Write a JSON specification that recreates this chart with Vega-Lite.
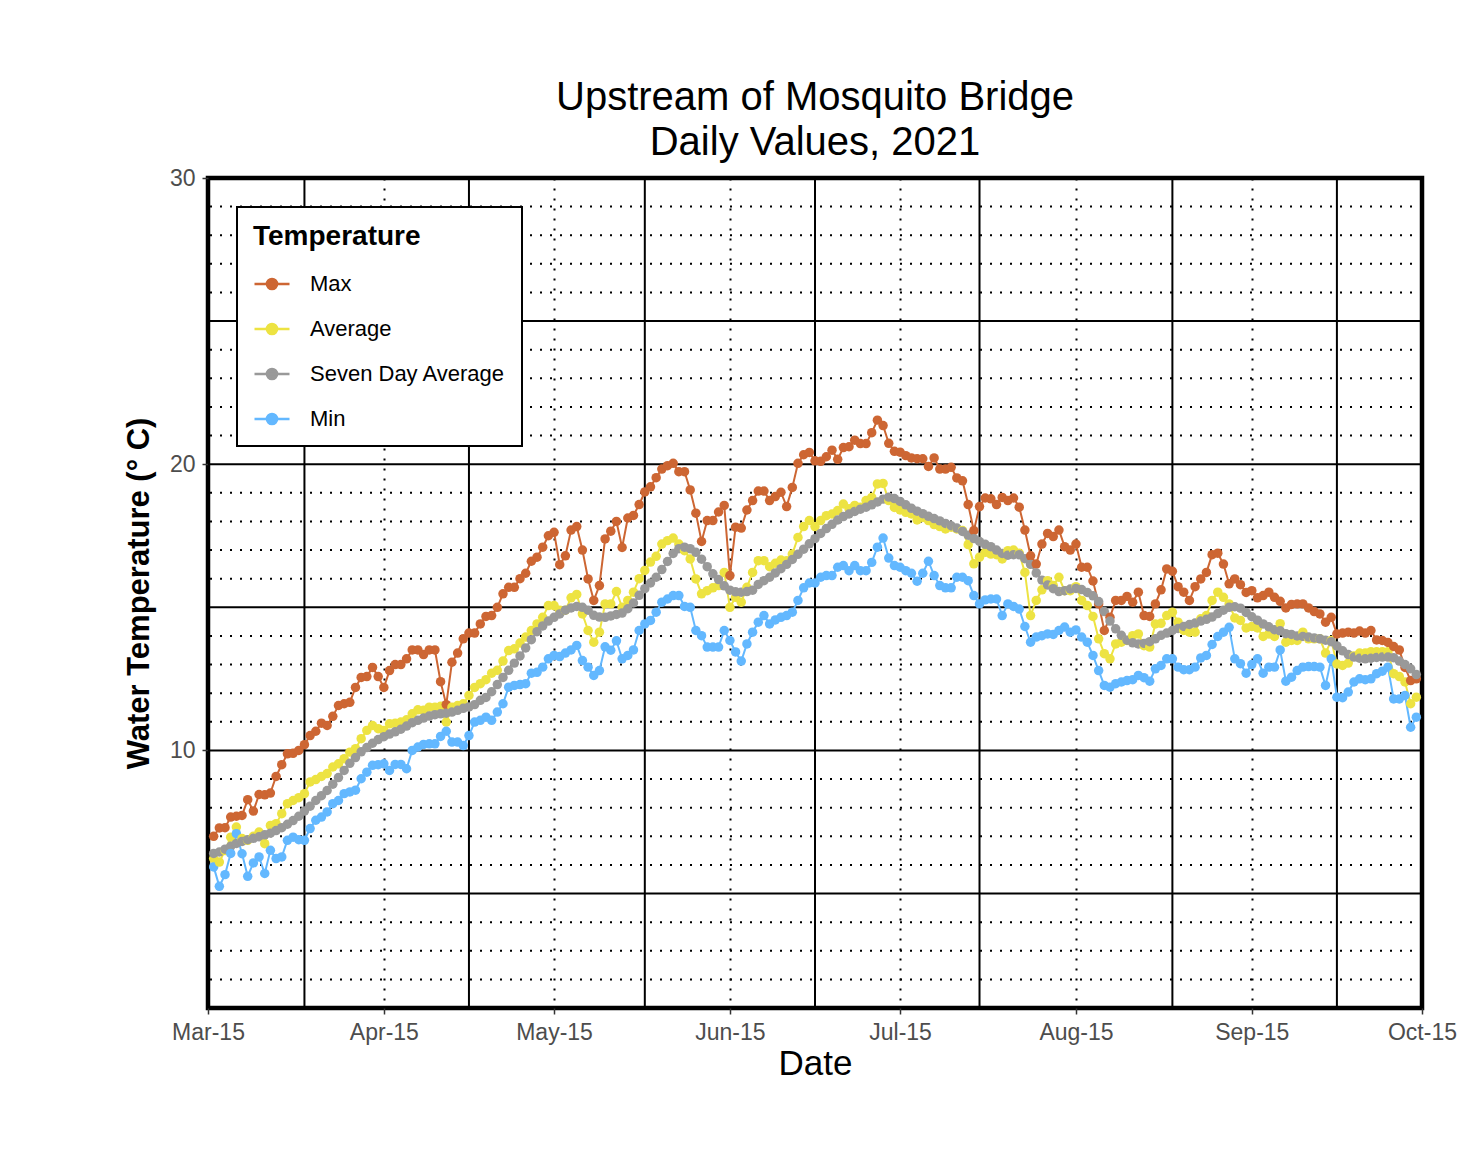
{
"$schema": "https://vega.github.io/schema/vega-lite/v6.json",
"width": 1214,
"height": 830,
"padding": {"left": 123, "top": 78, "right": 20, "bottom": 10},
"background": "white",
"title": {"text": ["Upstream of Mosquito Bridge", "Daily Values, 2021"], "fontSize": 40, "fontWeight": "normal", "font": "Liberation Sans", "color": "black", "anchor": "middle", "frame": "group", "lineHeight": 45, "offset": 4},
"config": {
  "font": "Liberation Sans",
  "view": {"stroke": "black", "strokeWidth": 4.5},
  "legend": {"strokeWidth": 2}
},
"layer": [
{
  "data": {"values": [{"temp":2},{"temp":3},{"temp":4},{"temp":6},{"temp":7},{"temp":8},{"temp":9},{"temp":11},{"temp":12},{"temp":13},{"temp":14},{"temp":16},{"temp":17},{"temp":18},{"temp":19},{"temp":21},{"temp":22},{"temp":23},{"temp":24},{"temp":26},{"temp":27},{"temp":28},{"temp":29}]},
  "mark": {"type": "rule", "color": "black", "strokeWidth": 2, "strokeDash": [2, 8]},
  "encoding": {"y": {"field": "temp", "type": "quantitative", "scale": {"domain": [1, 30], "nice": false, "zero": false}}}
},
{
  "data": {"values": [{"temp":5},{"temp":10},{"temp":15},{"temp":20},{"temp":25}]},
  "mark": {"type": "rule", "color": "black", "strokeWidth": 2},
  "encoding": {"y": {"field": "temp", "type": "quantitative", "scale": {"domain": [1, 30], "nice": false, "zero": false}}}
},
{
  "data": {"values": [{"date":"2021-04-01"},{"date":"2021-04-30"},{"date":"2021-05-31"},{"date":"2021-06-30"},{"date":"2021-07-29"},{"date":"2021-09-01"},{"date":"2021-09-30"}]},
  "mark": {"type": "rule", "color": "black", "strokeWidth": 2},
  "encoding": {"x": {"field": "date", "type": "temporal", "scale": {"type": "utc", "domain": [{"year":2021,"month":3,"date":15,"utc":true},{"year":2021,"month":10,"date":15,"utc":true}]}}}
},
{
  "data": {"values": [
{"date":"2021-03-16","max":7.0,"avg":6.22,"sda":6.4,"min":5.93},
{"date":"2021-03-17","max":7.29,"avg":6.1,"sda":6.45,"min":5.25},
{"date":"2021-03-18","max":7.3,"avg":6.5,"sda":6.55,"min":5.66},
{"date":"2021-03-19","max":7.67,"avg":6.97,"sda":6.65,"min":6.4},
{"date":"2021-03-20","max":7.7,"avg":7.32,"sda":6.75,"min":7.09},
{"date":"2021-03-21","max":7.73,"avg":6.92,"sda":6.82,"min":6.39},
{"date":"2021-03-22","max":8.28,"avg":6.86,"sda":6.88,"min":5.6},
{"date":"2021-03-23","max":7.88,"avg":7.0,"sda":6.93,"min":6.07},
{"date":"2021-03-24","max":8.46,"avg":7.15,"sda":6.98,"min":6.28},
{"date":"2021-03-25","max":8.45,"avg":6.74,"sda":7.05,"min":5.7},
{"date":"2021-03-26","max":8.51,"avg":7.38,"sda":7.11,"min":6.51},
{"date":"2021-03-27","max":9.09,"avg":7.44,"sda":7.2,"min":6.22},
{"date":"2021-03-28","max":9.5,"avg":7.79,"sda":7.3,"min":6.28},
{"date":"2021-03-29","max":9.88,"avg":8.14,"sda":7.42,"min":6.86},
{"date":"2021-03-30","max":9.9,"avg":8.25,"sda":7.55,"min":6.97},
{"date":"2021-03-31","max":10.0,"avg":8.35,"sda":7.7,"min":6.88},
{"date":"2021-04-01","max":10.2,"avg":8.49,"sda":7.88,"min":6.86},
{"date":"2021-04-02","max":10.52,"avg":8.9,"sda":8.05,"min":7.27},
{"date":"2021-04-03","max":10.67,"avg":8.98,"sda":8.25,"min":7.56},
{"date":"2021-04-04","max":10.95,"avg":9.09,"sda":8.42,"min":7.67},
{"date":"2021-04-05","max":10.87,"avg":9.19,"sda":8.6,"min":7.85},
{"date":"2021-04-06","max":11.19,"avg":9.42,"sda":8.82,"min":8.14},
{"date":"2021-04-07","max":11.57,"avg":9.53,"sda":9.05,"min":8.25},
{"date":"2021-04-08","max":11.63,"avg":9.71,"sda":9.3,"min":8.49},
{"date":"2021-04-09","max":11.68,"avg":9.94,"sda":9.55,"min":8.55},
{"date":"2021-04-10","max":12.2,"avg":10.06,"sda":9.75,"min":8.61},
{"date":"2021-04-11","max":12.55,"avg":10.41,"sda":9.95,"min":9.01},
{"date":"2021-04-12","max":12.58,"avg":10.7,"sda":10.1,"min":9.24},
{"date":"2021-04-13","max":12.9,"avg":10.87,"sda":10.25,"min":9.48},
{"date":"2021-04-14","max":12.58,"avg":10.76,"sda":10.38,"min":9.5},
{"date":"2021-04-15","max":12.2,"avg":10.7,"sda":10.48,"min":9.53},
{"date":"2021-04-16","max":12.79,"avg":10.93,"sda":10.57,"min":9.3},
{"date":"2021-04-17","max":13.0,"avg":10.95,"sda":10.65,"min":9.51},
{"date":"2021-04-18","max":13.0,"avg":10.99,"sda":10.74,"min":9.51},
{"date":"2021-04-19","max":13.2,"avg":11.07,"sda":10.85,"min":9.36},
{"date":"2021-04-20","max":13.51,"avg":11.28,"sda":10.97,"min":10.0},
{"date":"2021-04-21","max":13.51,"avg":11.42,"sda":11.05,"min":10.12},
{"date":"2021-04-22","max":13.35,"avg":11.4,"sda":11.13,"min":10.21},
{"date":"2021-04-23","max":13.51,"avg":11.51,"sda":11.2,"min":10.23},
{"date":"2021-04-24","max":13.51,"avg":11.51,"sda":11.25,"min":10.23},
{"date":"2021-04-25","max":12.4,"avg":11.54,"sda":11.28,"min":10.49},
{"date":"2021-04-26","max":11.6,"avg":10.99,"sda":11.3,"min":10.67},
{"date":"2021-04-27","max":13.08,"avg":11.51,"sda":11.34,"min":10.29},
{"date":"2021-04-28","max":13.4,"avg":11.57,"sda":11.4,"min":10.29},
{"date":"2021-04-29","max":13.9,"avg":11.63,"sda":11.47,"min":10.17},
{"date":"2021-04-30","max":14.1,"avg":11.92,"sda":11.52,"min":10.52},
{"date":"2021-05-01","max":14.1,"avg":12.2,"sda":11.6,"min":10.99},
{"date":"2021-05-02","max":14.42,"avg":12.33,"sda":11.75,"min":11.05},
{"date":"2021-05-03","max":14.68,"avg":12.47,"sda":11.85,"min":11.16},
{"date":"2021-05-04","max":14.71,"avg":12.7,"sda":12.05,"min":11.05},
{"date":"2021-05-05","max":15.0,"avg":12.8,"sda":12.3,"min":11.34},
{"date":"2021-05-06","max":15.47,"avg":13.12,"sda":12.55,"min":11.63},
{"date":"2021-05-07","max":15.7,"avg":13.49,"sda":12.8,"min":12.21},
{"date":"2021-05-08","max":15.7,"avg":13.55,"sda":13.05,"min":12.27},
{"date":"2021-05-09","max":16.0,"avg":13.75,"sda":13.3,"min":12.3},
{"date":"2021-05-10","max":16.19,"avg":13.96,"sda":13.58,"min":12.33},
{"date":"2021-05-11","max":16.61,"avg":14.19,"sda":13.87,"min":12.7},
{"date":"2021-05-12","max":16.75,"avg":14.42,"sda":14.15,"min":12.73},
{"date":"2021-05-13","max":17.1,"avg":14.65,"sda":14.35,"min":12.91},
{"date":"2021-05-14","max":17.5,"avg":15.06,"sda":14.52,"min":13.2},
{"date":"2021-05-15","max":17.62,"avg":15.06,"sda":14.65,"min":13.32},
{"date":"2021-05-16","max":16.49,"avg":14.9,"sda":14.77,"min":13.28},
{"date":"2021-05-17","max":16.8,"avg":14.9,"sda":14.9,"min":13.4},
{"date":"2021-05-18","max":17.7,"avg":15.33,"sda":14.98,"min":13.51},
{"date":"2021-05-19","max":17.82,"avg":15.45,"sda":15.03,"min":13.67},
{"date":"2021-05-20","max":17.0,"avg":14.77,"sda":15.0,"min":13.14},
{"date":"2021-05-21","max":15.99,"avg":14.19,"sda":14.9,"min":12.91},
{"date":"2021-05-22","max":15.24,"avg":13.78,"sda":14.72,"min":12.62},
{"date":"2021-05-23","max":15.76,"avg":14.13,"sda":14.66,"min":12.79},
{"date":"2021-05-24","max":17.39,"avg":15.12,"sda":14.65,"min":13.62},
{"date":"2021-05-25","max":17.66,"avg":15.12,"sda":14.7,"min":13.5},
{"date":"2021-05-26","max":18.0,"avg":15.55,"sda":14.75,"min":13.83},
{"date":"2021-05-27","max":17.09,"avg":15.0,"sda":14.8,"min":13.2},
{"date":"2021-05-28","max":18.12,"avg":15.24,"sda":14.95,"min":13.32},
{"date":"2021-05-29","max":18.21,"avg":15.53,"sda":15.15,"min":13.51},
{"date":"2021-05-30","max":18.59,"avg":16.0,"sda":15.42,"min":14.19},
{"date":"2021-05-31","max":19.03,"avg":16.29,"sda":15.65,"min":14.42},
{"date":"2021-06-01","max":19.21,"avg":16.58,"sda":15.85,"min":14.54},
{"date":"2021-06-02","max":19.53,"avg":16.78,"sda":16.05,"min":14.83},
{"date":"2021-06-03","max":19.83,"avg":17.21,"sda":16.32,"min":15.18},
{"date":"2021-06-04","max":19.95,"avg":17.33,"sda":16.6,"min":15.29},
{"date":"2021-06-05","max":20.03,"avg":17.42,"sda":16.88,"min":15.41},
{"date":"2021-06-06","max":19.74,"avg":17.21,"sda":17.05,"min":15.41},
{"date":"2021-06-07","max":19.74,"avg":16.98,"sda":17.1,"min":15.03},
{"date":"2021-06-08","max":19.1,"avg":16.69,"sda":17.05,"min":15.0},
{"date":"2021-06-09","max":18.29,"avg":15.99,"sda":16.92,"min":14.19},
{"date":"2021-06-10","max":17.3,"avg":15.47,"sda":16.68,"min":14.01},
{"date":"2021-06-11","max":18.03,"avg":15.58,"sda":16.42,"min":13.61},
{"date":"2021-06-12","max":18.03,"avg":15.68,"sda":16.17,"min":13.61},
{"date":"2021-06-13","max":18.33,"avg":15.76,"sda":15.97,"min":13.61},
{"date":"2021-06-14","max":18.56,"avg":16.22,"sda":15.75,"min":14.19},
{"date":"2021-06-15","max":16.11,"avg":15.0,"sda":15.6,"min":13.84},
{"date":"2021-06-16","max":17.8,"avg":15.35,"sda":15.54,"min":13.44},
{"date":"2021-06-17","max":17.77,"avg":15.18,"sda":15.53,"min":13.12},
{"date":"2021-06-18","max":18.4,"avg":15.7,"sda":15.55,"min":13.72},
{"date":"2021-06-19","max":18.73,"avg":16.22,"sda":15.6,"min":14.13},
{"date":"2021-06-20","max":19.06,"avg":16.63,"sda":15.8,"min":14.48},
{"date":"2021-06-21","max":19.06,"avg":16.63,"sda":15.93,"min":14.71},
{"date":"2021-06-22","max":18.73,"avg":16.42,"sda":16.05,"min":14.42},
{"date":"2021-06-23","max":18.87,"avg":16.54,"sda":16.2,"min":14.56},
{"date":"2021-06-24","max":19.02,"avg":16.65,"sda":16.35,"min":14.65},
{"date":"2021-06-25","max":18.52,"avg":16.63,"sda":16.5,"min":14.71},
{"date":"2021-06-26","max":19.19,"avg":16.86,"sda":16.67,"min":14.83},
{"date":"2021-06-27","max":20.03,"avg":17.44,"sda":16.85,"min":15.24},
{"date":"2021-06-28","max":20.33,"avg":17.82,"sda":17.03,"min":15.68},
{"date":"2021-06-29","max":20.41,"avg":18.03,"sda":17.22,"min":15.85},
{"date":"2021-06-30","max":20.12,"avg":17.82,"sda":17.4,"min":15.85},
{"date":"2021-07-01","max":20.1,"avg":18.03,"sda":17.58,"min":16.05},
{"date":"2021-07-02","max":20.26,"avg":18.2,"sda":17.75,"min":16.11},
{"date":"2021-07-03","max":20.49,"avg":18.26,"sda":17.9,"min":16.11},
{"date":"2021-07-04","max":20.17,"avg":18.38,"sda":18.05,"min":16.4},
{"date":"2021-07-05","max":20.58,"avg":18.61,"sda":18.17,"min":16.46},
{"date":"2021-07-06","max":20.61,"avg":18.44,"sda":18.26,"min":16.28},
{"date":"2021-07-07","max":20.84,"avg":18.56,"sda":18.35,"min":16.46},
{"date":"2021-07-08","max":20.72,"avg":18.5,"sda":18.43,"min":16.28},
{"date":"2021-07-09","max":20.72,"avg":18.73,"sda":18.5,"min":16.28},
{"date":"2021-07-10","max":21.1,"avg":18.84,"sda":18.58,"min":16.57},
{"date":"2021-07-11","max":21.54,"avg":19.31,"sda":18.68,"min":17.1},
{"date":"2021-07-12","max":21.35,"avg":19.33,"sda":18.78,"min":17.42},
{"date":"2021-07-13","max":20.73,"avg":18.73,"sda":18.85,"min":16.72},
{"date":"2021-07-14","max":20.45,"avg":18.49,"sda":18.8,"min":16.46},
{"date":"2021-07-15","max":20.42,"avg":18.4,"sda":18.7,"min":16.4},
{"date":"2021-07-16","max":20.3,"avg":18.32,"sda":18.58,"min":16.28},
{"date":"2021-07-17","max":20.22,"avg":18.26,"sda":18.46,"min":16.19},
{"date":"2021-07-18","max":20.19,"avg":18.05,"sda":18.36,"min":15.91},
{"date":"2021-07-19","max":20.19,"avg":18.14,"sda":18.27,"min":16.19},
{"date":"2021-07-20","max":19.92,"avg":18.03,"sda":18.18,"min":16.61},
{"date":"2021-07-21","max":20.22,"avg":17.89,"sda":18.1,"min":16.11},
{"date":"2021-07-22","max":19.83,"avg":17.82,"sda":18.02,"min":15.76},
{"date":"2021-07-23","max":19.83,"avg":17.74,"sda":17.93,"min":15.68},
{"date":"2021-07-24","max":19.89,"avg":17.8,"sda":17.85,"min":15.68},
{"date":"2021-07-25","max":19.52,"avg":17.74,"sda":17.77,"min":16.05},
{"date":"2021-07-26","max":19.42,"avg":17.68,"sda":17.65,"min":16.05},
{"date":"2021-07-27","max":18.59,"avg":17.19,"sda":17.52,"min":15.93},
{"date":"2021-07-28","max":17.68,"avg":16.52,"sda":17.4,"min":15.41},
{"date":"2021-07-29","max":18.52,"avg":16.75,"sda":17.3,"min":15.12},
{"date":"2021-07-30","max":18.82,"avg":16.92,"sda":17.2,"min":15.26},
{"date":"2021-07-31","max":18.79,"avg":16.86,"sda":17.12,"min":15.29},
{"date":"2021-08-01","max":18.59,"avg":16.84,"sda":17.0,"min":15.29},
{"date":"2021-08-02","max":18.84,"avg":16.69,"sda":16.88,"min":14.71},
{"date":"2021-08-03","max":18.73,"avg":16.98,"sda":16.82,"min":15.12},
{"date":"2021-08-04","max":18.82,"avg":17.0,"sda":16.84,"min":15.03},
{"date":"2021-08-05","max":18.5,"avg":16.89,"sda":16.84,"min":14.94},
{"date":"2021-08-06","max":17.7,"avg":16.22,"sda":16.7,"min":14.33},
{"date":"2021-08-07","max":16.8,"avg":14.71,"sda":16.5,"min":13.78},
{"date":"2021-08-08","max":16.51,"avg":15.24,"sda":16.2,"min":13.96},
{"date":"2021-08-09","max":17.21,"avg":15.61,"sda":15.95,"min":14.01},
{"date":"2021-08-10","max":17.58,"avg":15.93,"sda":15.78,"min":14.07},
{"date":"2021-08-11","max":17.47,"avg":15.76,"sda":15.65,"min":14.05},
{"date":"2021-08-12","max":17.7,"avg":16.05,"sda":15.55,"min":14.19},
{"date":"2021-08-13","max":17.12,"avg":15.58,"sda":15.58,"min":14.31},
{"date":"2021-08-14","max":17.0,"avg":15.58,"sda":15.64,"min":14.13},
{"date":"2021-08-15","max":17.21,"avg":15.72,"sda":15.66,"min":14.21},
{"date":"2021-08-16","max":16.4,"avg":15.24,"sda":15.62,"min":13.96},
{"date":"2021-08-17","max":16.4,"avg":15.06,"sda":15.52,"min":13.78},
{"date":"2021-08-18","max":15.92,"avg":14.68,"sda":15.4,"min":13.32},
{"date":"2021-08-19","max":15.12,"avg":13.9,"sda":15.2,"min":12.79},
{"date":"2021-08-20","max":14.19,"avg":13.38,"sda":14.85,"min":12.27},
{"date":"2021-08-21","max":14.65,"avg":13.2,"sda":14.52,"min":12.21},
{"date":"2021-08-22","max":15.24,"avg":13.72,"sda":14.25,"min":12.33},
{"date":"2021-08-23","max":15.24,"avg":13.78,"sda":14.02,"min":12.39},
{"date":"2021-08-24","max":15.38,"avg":13.84,"sda":13.85,"min":12.44},
{"date":"2021-08-25","max":15.18,"avg":14.01,"sda":13.76,"min":12.47},
{"date":"2021-08-26","max":15.53,"avg":14.07,"sda":13.72,"min":12.62},
{"date":"2021-08-27","max":14.71,"avg":13.66,"sda":13.74,"min":12.54},
{"date":"2021-08-28","max":14.68,"avg":13.61,"sda":13.8,"min":12.42},
{"date":"2021-08-29","max":15.12,"avg":14.42,"sda":13.9,"min":12.85},
{"date":"2021-08-30","max":15.61,"avg":14.44,"sda":14.02,"min":12.97},
{"date":"2021-08-31","max":16.34,"avg":14.71,"sda":14.1,"min":13.2},
{"date":"2021-09-01","max":16.26,"avg":14.83,"sda":14.19,"min":13.2},
{"date":"2021-09-02","max":15.72,"avg":14.48,"sda":14.26,"min":12.91},
{"date":"2021-09-03","max":15.53,"avg":14.19,"sda":14.33,"min":12.82},
{"date":"2021-09-04","max":15.24,"avg":14.13,"sda":14.4,"min":12.82},
{"date":"2021-09-05","max":15.72,"avg":14.13,"sda":14.45,"min":12.91},
{"date":"2021-09-06","max":15.99,"avg":14.6,"sda":14.52,"min":13.23},
{"date":"2021-09-07","max":16.22,"avg":14.71,"sda":14.58,"min":13.32},
{"date":"2021-09-08","max":16.84,"avg":15.24,"sda":14.66,"min":13.7},
{"date":"2021-09-09","max":16.89,"avg":15.53,"sda":14.78,"min":13.98},
{"date":"2021-09-10","max":16.51,"avg":15.35,"sda":14.9,"min":14.13},
{"date":"2021-09-11","max":15.82,"avg":15.12,"sda":15.0,"min":14.3},
{"date":"2021-09-12","max":15.99,"avg":14.63,"sda":15.02,"min":13.2},
{"date":"2021-09-13","max":15.79,"avg":14.54,"sda":14.97,"min":13.03},
{"date":"2021-09-14","max":15.52,"avg":14.28,"sda":14.82,"min":12.7},
{"date":"2021-09-15","max":15.58,"avg":14.33,"sda":14.67,"min":13.0},
{"date":"2021-09-16","max":15.33,"avg":14.28,"sda":14.55,"min":13.2},
{"date":"2021-09-17","max":15.41,"avg":13.98,"sda":14.42,"min":12.7},
{"date":"2021-09-18","max":15.53,"avg":14.07,"sda":14.32,"min":12.91},
{"date":"2021-09-19","max":15.35,"avg":13.98,"sda":14.22,"min":12.91},
{"date":"2021-09-20","max":15.21,"avg":14.43,"sda":14.18,"min":13.51},
{"date":"2021-09-21","max":14.98,"avg":13.78,"sda":14.08,"min":12.42},
{"date":"2021-09-22","max":15.1,"avg":13.84,"sda":14.05,"min":12.56},
{"date":"2021-09-23","max":15.12,"avg":13.84,"sda":14.0,"min":12.79},
{"date":"2021-09-24","max":15.12,"avg":14.13,"sda":13.98,"min":12.91},
{"date":"2021-09-25","max":14.98,"avg":13.9,"sda":13.96,"min":12.93},
{"date":"2021-09-26","max":14.85,"avg":13.9,"sda":13.93,"min":12.93},
{"date":"2021-09-27","max":14.77,"avg":13.9,"sda":13.9,"min":12.91},
{"date":"2021-09-28","max":14.48,"avg":13.4,"sda":13.85,"min":12.27},
{"date":"2021-09-29","max":14.65,"avg":13.84,"sda":13.8,"min":13.2},
{"date":"2021-09-30","max":14.07,"avg":13.02,"sda":13.65,"min":11.86},
{"date":"2021-10-01","max":14.1,"avg":12.97,"sda":13.48,"min":11.84},
{"date":"2021-10-02","max":14.13,"avg":13.05,"sda":13.35,"min":12.04},
{"date":"2021-10-03","max":14.1,"avg":13.3,"sda":13.26,"min":12.39},
{"date":"2021-10-04","max":14.17,"avg":13.4,"sda":13.22,"min":12.5},
{"date":"2021-10-05","max":14.1,"avg":13.4,"sda":13.2,"min":12.47},
{"date":"2021-10-06","max":14.19,"avg":13.45,"sda":13.22,"min":12.5},
{"date":"2021-10-07","max":13.86,"avg":13.45,"sda":13.25,"min":12.68},
{"date":"2021-10-08","max":13.84,"avg":13.45,"sda":13.26,"min":12.77},
{"date":"2021-10-09","max":13.77,"avg":13.45,"sda":13.26,"min":12.91},
{"date":"2021-10-10","max":13.63,"avg":12.68,"sda":13.24,"min":11.8},
{"date":"2021-10-11","max":13.51,"avg":12.58,"sda":13.12,"min":11.8},
{"date":"2021-10-12","max":12.9,"avg":12.39,"sda":13.0,"min":11.92},
{"date":"2021-10-13","max":12.44,"avg":11.63,"sda":12.85,"min":10.81},
{"date":"2021-10-14","max":12.5,"avg":11.86,"sda":12.65,"min":11.16}
  ]},
  "transform": [{"fold": ["max", "avg", "sda", "min"], "as": ["series", "temp"]}],
  "mark": {"type": "line", "strokeWidth": 2, "point": {"filled": true, "size": 90, "opacity": 1}},
  "encoding": {
    "x": {"field": "date", "type": "temporal",
      "scale": {"type": "utc", "domain": [{"year":2021,"month":3,"date":15,"utc":true},{"year":2021,"month":10,"date":15,"utc":true}]},
      "axis": {
        "values": [{"year":2021,"month":3,"date":15,"utc":true},{"year":2021,"month":4,"date":15,"utc":true},{"year":2021,"month":5,"date":15,"utc":true},{"year":2021,"month":6,"date":15,"utc":true},{"year":2021,"month":7,"date":15,"utc":true},{"year":2021,"month":8,"date":15,"utc":true},{"year":2021,"month":9,"date":15,"utc":true},{"year":2021,"month":10,"date":15,"utc":true}],
        "labelExpr": "utcFormat(datum.value, '%b-%d')",
        "grid": true, "gridColor": "black", "gridDash": [2, 8], "gridWidth": 2, "gridOpacity": 1,
        "domain": false, "ticks": true, "tickColor": "#333333", "tickSize": 6, "tickWidth": 1.5,
        "labelColor": "#4D4D4D", "labelFontSize": 23, "labelPadding": 7, "labelFlush": false, "labelOverlap": false,
        "title": "Date", "titleFontSize": 35, "titleFontWeight": "normal", "titleColor": "black", "titlePadding": 2
      }},
    "y": {"field": "temp", "type": "quantitative",
      "scale": {"domain": [1, 30], "nice": false, "zero": false},
      "axis": {
        "values": [10, 20, 30], "grid": false, "domain": false,
        "tickColor": "#333333", "tickSize": 6, "tickWidth": 1.5,
        "labelColor": "#4D4D4D", "labelFontSize": 23, "labelPadding": 7, "labelFlush": false,
        "title": "Water Temperature (° C)", "titleFontSize": 31, "titleFontWeight": "bold", "titleColor": "black", "titlePadding": 14
      }},
    "color": {"field": "series", "type": "nominal",
      "scale": {"domain": ["max", "avg", "sda", "min"], "range": ["#CD6633", "#EDE342", "#999999", "#63B8FF"]},
      "legend": {
        "title": "Temperature", "orient": "top-left", "offset": 29, "padding": 16,
        "strokeColor": "black", "fillColor": "white",
        "titleFontSize": 28, "titleFontWeight": "bold", "titleColor": "black", "titlePadding": 14,
        "labelFontSize": 22, "labelColor": "black", "labelOffset": 19, "labelLimit": 0,
        "labelExpr": "datum.label == 'max' ? 'Max' : datum.label == 'avg' ? 'Average' : datum.label == 'sda' ? 'Seven Day Average' : 'Min'",
        "symbolType": "M-1,0L1,0M-0.29,0A0.29,0.29,0,1,0,0.29,0A0.29,0.29,0,1,0,-0.29,0Z",
        "symbolSize": 1225, "symbolStrokeWidth": 2.5, "rowPadding": 15,
        "encode": {"symbols": {"update": {"fill": {"scale": "color", "field": "value"}, "stroke": {"scale": "color", "field": "value"}, "strokeWidth": {"value": 2.5}, "opacity": {"value": 1}}}}
      }}
  }
}
]
}
